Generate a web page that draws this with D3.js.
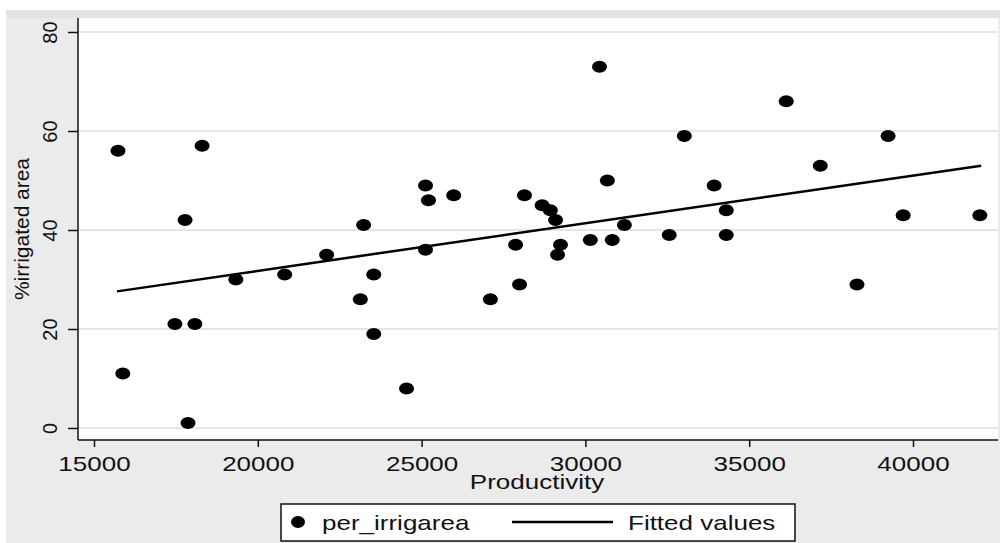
<!DOCTYPE html>
<html>
<head>
<meta charset="utf-8">
<script src="https://cdn.jsdelivr.net/npm/d3@7"></script>
<style>
  body { margin: 0; background: #fff; }
  text { font-family: "Liberation Sans", Arial, sans-serif; fill: #111; }
</style>
</head>
<body>
<div id="chart"></div>
<script>
// datos
const productivity = [15732, 15880, 17470, 17780, 17870, 18080, 18300, 19330, 20820, 22100,
  23130, 23230, 23540, 23540, 24540, 25120, 25210, 25120, 25980, 27100,
  27870, 27990, 28140, 28680, 28930, 29090, 29150, 29240, 30150, 30430,
  30670, 30820, 31190, 32560, 33020, 33930, 34300, 34300, 36130, 37170,
  38290, 39240, 39700, 42040];
const irrigArea = [56, 11, 21, 42, 1, 21, 57, 30, 31, 35,
  26, 41, 31, 19, 8, 49, 46, 36, 47, 26,
  37, 29, 47, 45, 44, 42, 35, 37, 38, 73,
  50, 38, 41, 39, 59, 49, 44, 39, 66, 53,
  29, 59, 43, 43];

// recta ajustada (extremos)
const fitX = [15700, 42080];
const fitY = [27.6, 53.0];

const xTicks = [15000, 20000, 25000, 30000, 35000, 40000];
const yTicks = [0, 20, 40, 60, 80];

const width = 1000, height = 543;
const plot = { left: 78, right: 998, top: 18, bottom: 440 };

const svg = d3.select("#chart").append("svg")
  .attr("width", width).attr("height", height);

// fondo gris y area blanca
svg.append("rect").attr("x", 6).attr("y", 10).attr("width", width - 6).attr("height", height - 10)
  .attr("fill", "#ebebeb");
svg.append("rect").attr("x", 6).attr("y", 10).attr("width", width - 6).attr("height", 8)
  .attr("fill", "#e2e2e2");
svg.append("rect").attr("x", plot.left).attr("y", plot.top)
  .attr("width", plot.right - plot.left).attr("height", plot.bottom - plot.top)
  .attr("fill", "#fff");

const xScale = d3.scaleLinear().domain([15000, 40000]).range([94, 913]);
const yScale = d3.scaleLinear().domain([0, 80]).range([428, 32]);

// lineas de grilla
svg.append("g").selectAll("line").data(yTicks).enter().append("line")
  .attr("x1", plot.left).attr("x2", plot.right)
  .attr("y1", d => yScale(d)).attr("y2", d => yScale(d))
  .attr("stroke", "#dcdcdc").attr("stroke-width", 1.5);

// eje X
const xAxis = d3.axisBottom(xScale).tickValues(xTicks).tickSize(7).tickPadding(10)
  .tickFormat(d3.format("d"));
const gx = svg.append("g").attr("transform", `translate(0,${plot.bottom})`).call(xAxis);
gx.select(".domain").remove();
gx.selectAll(".tick line").attr("stroke", "#111").attr("stroke-width", 1.5);
gx.selectAll(".tick text").attr("font-size", 20).attr("font-family", null)
  .attr("transform", "scale(1.3,1)");
svg.append("line").attr("x1", plot.left).attr("x2", plot.right)
  .attr("y1", plot.bottom).attr("y2", plot.bottom)
  .attr("stroke", "#111").attr("stroke-width", 1.5);

// eje Y
const yAxis = d3.axisLeft(yScale).tickValues(yTicks).tickSize(10).tickFormat(d3.format("d"));
const gy = svg.append("g").attr("transform", `translate(${plot.left},0)`).call(yAxis);
gy.select(".domain").remove();
gy.selectAll(".tick line").attr("stroke", "#111").attr("stroke-width", 1.5);
gy.selectAll(".tick text").attr("font-size", 20).attr("font-family", null)
  .attr("x", null).attr("dy", null)
  .attr("text-anchor", "middle")
  .attr("transform", "translate(-21,0) rotate(-90)");
svg.append("line").attr("x1", plot.left).attr("x2", plot.left)
  .attr("y1", plot.top).attr("y2", plot.bottom)
  .attr("stroke", "#111").attr("stroke-width", 1.5);

// titulos de ejes
svg.append("text")
  .attr("transform", `translate(29,${(158 + 300) / 2}) rotate(-90)`)
  .attr("text-anchor", "middle").attr("font-size", 20)
  .attr("textLength", 142).attr("lengthAdjust", "spacingAndGlyphs")
  .text("%irrigated area");
svg.append("text")
  .attr("transform", "translate(537,489) scale(1.3,1)")
  .attr("text-anchor", "middle").attr("font-size", 20)
  .text("Productivity");

// recta ajustada
const line = d3.line().x(d => xScale(d[0])).y(d => yScale(d[1]));
svg.append("path").datum(fitX.map((x, i) => [x, fitY[i]]))
  .attr("d", line).attr("fill", "none")
  .attr("stroke", "#000").attr("stroke-width", 2.5);

// puntos
svg.append("g").selectAll("ellipse").data(productivity).enter().append("ellipse")
  .attr("cx", d => xScale(d))
  .attr("cy", (d, i) => yScale(irrigArea[i]))
  .attr("rx", 7.5).attr("ry", 6)
  .attr("fill", "#000");

// leyenda
const legend = svg.append("g");
legend.append("rect").attr("x", 281).attr("y", 504).attr("width", 514).attr("height", 37)
  .attr("fill", "#fff").attr("stroke", "#111").attr("stroke-width", 1.5);
legend.append("ellipse").attr("cx", 298).attr("cy", 522).attr("rx", 7).attr("ry", 6).attr("fill", "#000");
legend.append("text").attr("transform", "translate(322,530) scale(1.3,1)")
  .attr("font-size", 20).text("per_irrigarea");
legend.append("line").attr("x1", 512).attr("x2", 613).attr("y1", 522).attr("y2", 522)
  .attr("stroke", "#000").attr("stroke-width", 2.5);
legend.append("text").attr("transform", "translate(628,530) scale(1.3,1)")
  .attr("font-size", 20).text("Fitted values");
</script>
</body>
</html>
